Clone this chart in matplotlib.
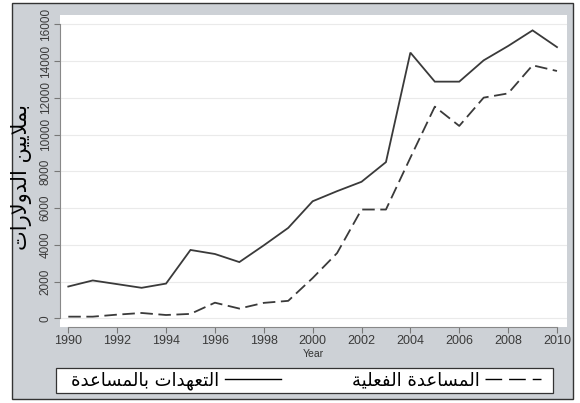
import matplotlib
matplotlib.use("Agg")
import matplotlib.pyplot as plt
from matplotlib.patches import Rectangle
from matplotlib.lines import Line2D

# ---- data ----
years = list(range(1990, 2011))
commitments = [1740, 2070, 1870, 1670, 1900, 3730, 3510, 3070, 3980, 4930,
               6380, 6930, 7440, 8510, 14470, 12890, 12890, 14050, 14830, 15680, 14770]
disbursements = [100, 100, 210, 300, 190, 250, 860, 540, 850, 960,
                 2200, 3560, 5930, 5930, 8750, 11530, 10480, 12020, 12250, 13780, 13470]
xticks = list(range(1990, 2011, 2))
yticks = list(range(0, 16001, 2000))

# Arabic text (presentation forms, visual order)
def vis(s):
    return s[::-1]

label_commit = vis("\uFE8D\uFEDF\uFE98\uFECC\uFEEC\uFEAA\uFE8D\uFE95 "
                   "\uFE91\uFE8E\uFEDF\uFEE4\uFEB4\uFE8E\uFECB\uFEAA\uFE93")
label_disb = vis("\uFE8D\uFEDF\uFEE4\uFEB4\uFE8E\uFECB\uFEAA\uFE93 "
                 "\uFE8D\uFEDF\uFED4\uFECC\uFEE0\uFEF4\uFE94")
ylabel = vis("\uFE91\uFEE4\uFEFC\uFEF3\uFEF4\uFEE6 "
             "\uFE8D\uFEDF\uFEAA\uFEED\uFEFB\uFEAD\uFE8D\uFE95")

plt.rcParams['lines.scale_dashes'] = False
W, H = 580, 403
fig = plt.figure(figsize=(W / 100, H / 100), dpi=100, facecolor="white")

def fx(px):
    return px / W

def fy(py):
    return 1 - py / H

# outer gray panel
fig.patches.append(Rectangle((fx(12), fy(399)), fx(573) - fx(12), fy(3) - fy(399),
                             transform=fig.transFigure, facecolor="#cdd1d6",
                             edgecolor="#333333", linewidth=1.0, zorder=-10))
# legend box
fig.patches.append(Rectangle((fx(56), fy(393)), fx(553) - fx(56), fy(368) - fy(393),
                             transform=fig.transFigure, facecolor="white",
                             edgecolor="#333333", linewidth=0.9, zorder=-5))

ax = fig.add_axes([fx(60), fy(327), fx(567) - fx(60), fy(15) - fy(327)])
ax.set_zorder(2)
ax.set_facecolor("white")
line_color = "#3a3a3a"
ax.plot(years, commitments, color=line_color, lw=1.3, solid_joinstyle="miter")
ax.plot(years, disbursements, color=line_color, lw=1.3, linestyle=(0, (9, 4)))

ax.set_xlim(1989.66, 2010.41)
ax.set_ylim(-463, 16517)
ax.set_xticks(xticks)
ax.set_yticks(yticks)
ax.set_xticklabels([str(t) for t in xticks], fontsize=9, family="Liberation Sans", color="#3a3a3a")
ax.set_yticklabels([str(t) for t in yticks], fontsize=8.5, family="Liberation Sans",
                   color="#3a3a3a", rotation=90, va="center")
ax.tick_params(axis="both", direction="out", length=4, width=0.8, color="#777777", pad=2)
ax.grid(axis="y", color="#eaeaea", lw=0.8)
ax.set_axisbelow(True)
for s in ["top", "right"]:
    ax.spines[s].set_visible(False)
for s in ["left", "bottom"]:
    ax.spines[s].set_color("#888888")
    ax.spines[s].set_linewidth(0.8)
ax.spines["left"].set_bounds(0, 16000)
ax.spines["bottom"].set_bounds(1990, 2010)

ax.set_xlabel("Year", fontsize=7.5, family="Liberation Sans", color="#333333", labelpad=1)
fig.text(fx(22), fy(177), ylabel, rotation=90, fontsize=15, family="DejaVu Sans",
         ha="center", va="center", color="black")

h1 = Line2D([], [], color="black", lw=1.0)
h2 = Line2D([], [], color="black", lw=1.0, linestyle=(0, (12, 5)))
common = dict(markerfirst=False, prop={"family": "DejaVu Sans", "size": 13},
              frameon=False, handlelength=3.1, handletextpad=0.3, borderpad=0.0,
              borderaxespad=0)
leg1 = fig.legend([h1], [label_commit], loc="center right",
                  bbox_to_anchor=(fx(281), fy(380.5)), **common)
leg2 = fig.legend([h2], [label_disb], loc="center right",
                  bbox_to_anchor=(fx(541), fy(380.5)), **common)

fig.savefig("out.png", dpi=100, facecolor="white")
